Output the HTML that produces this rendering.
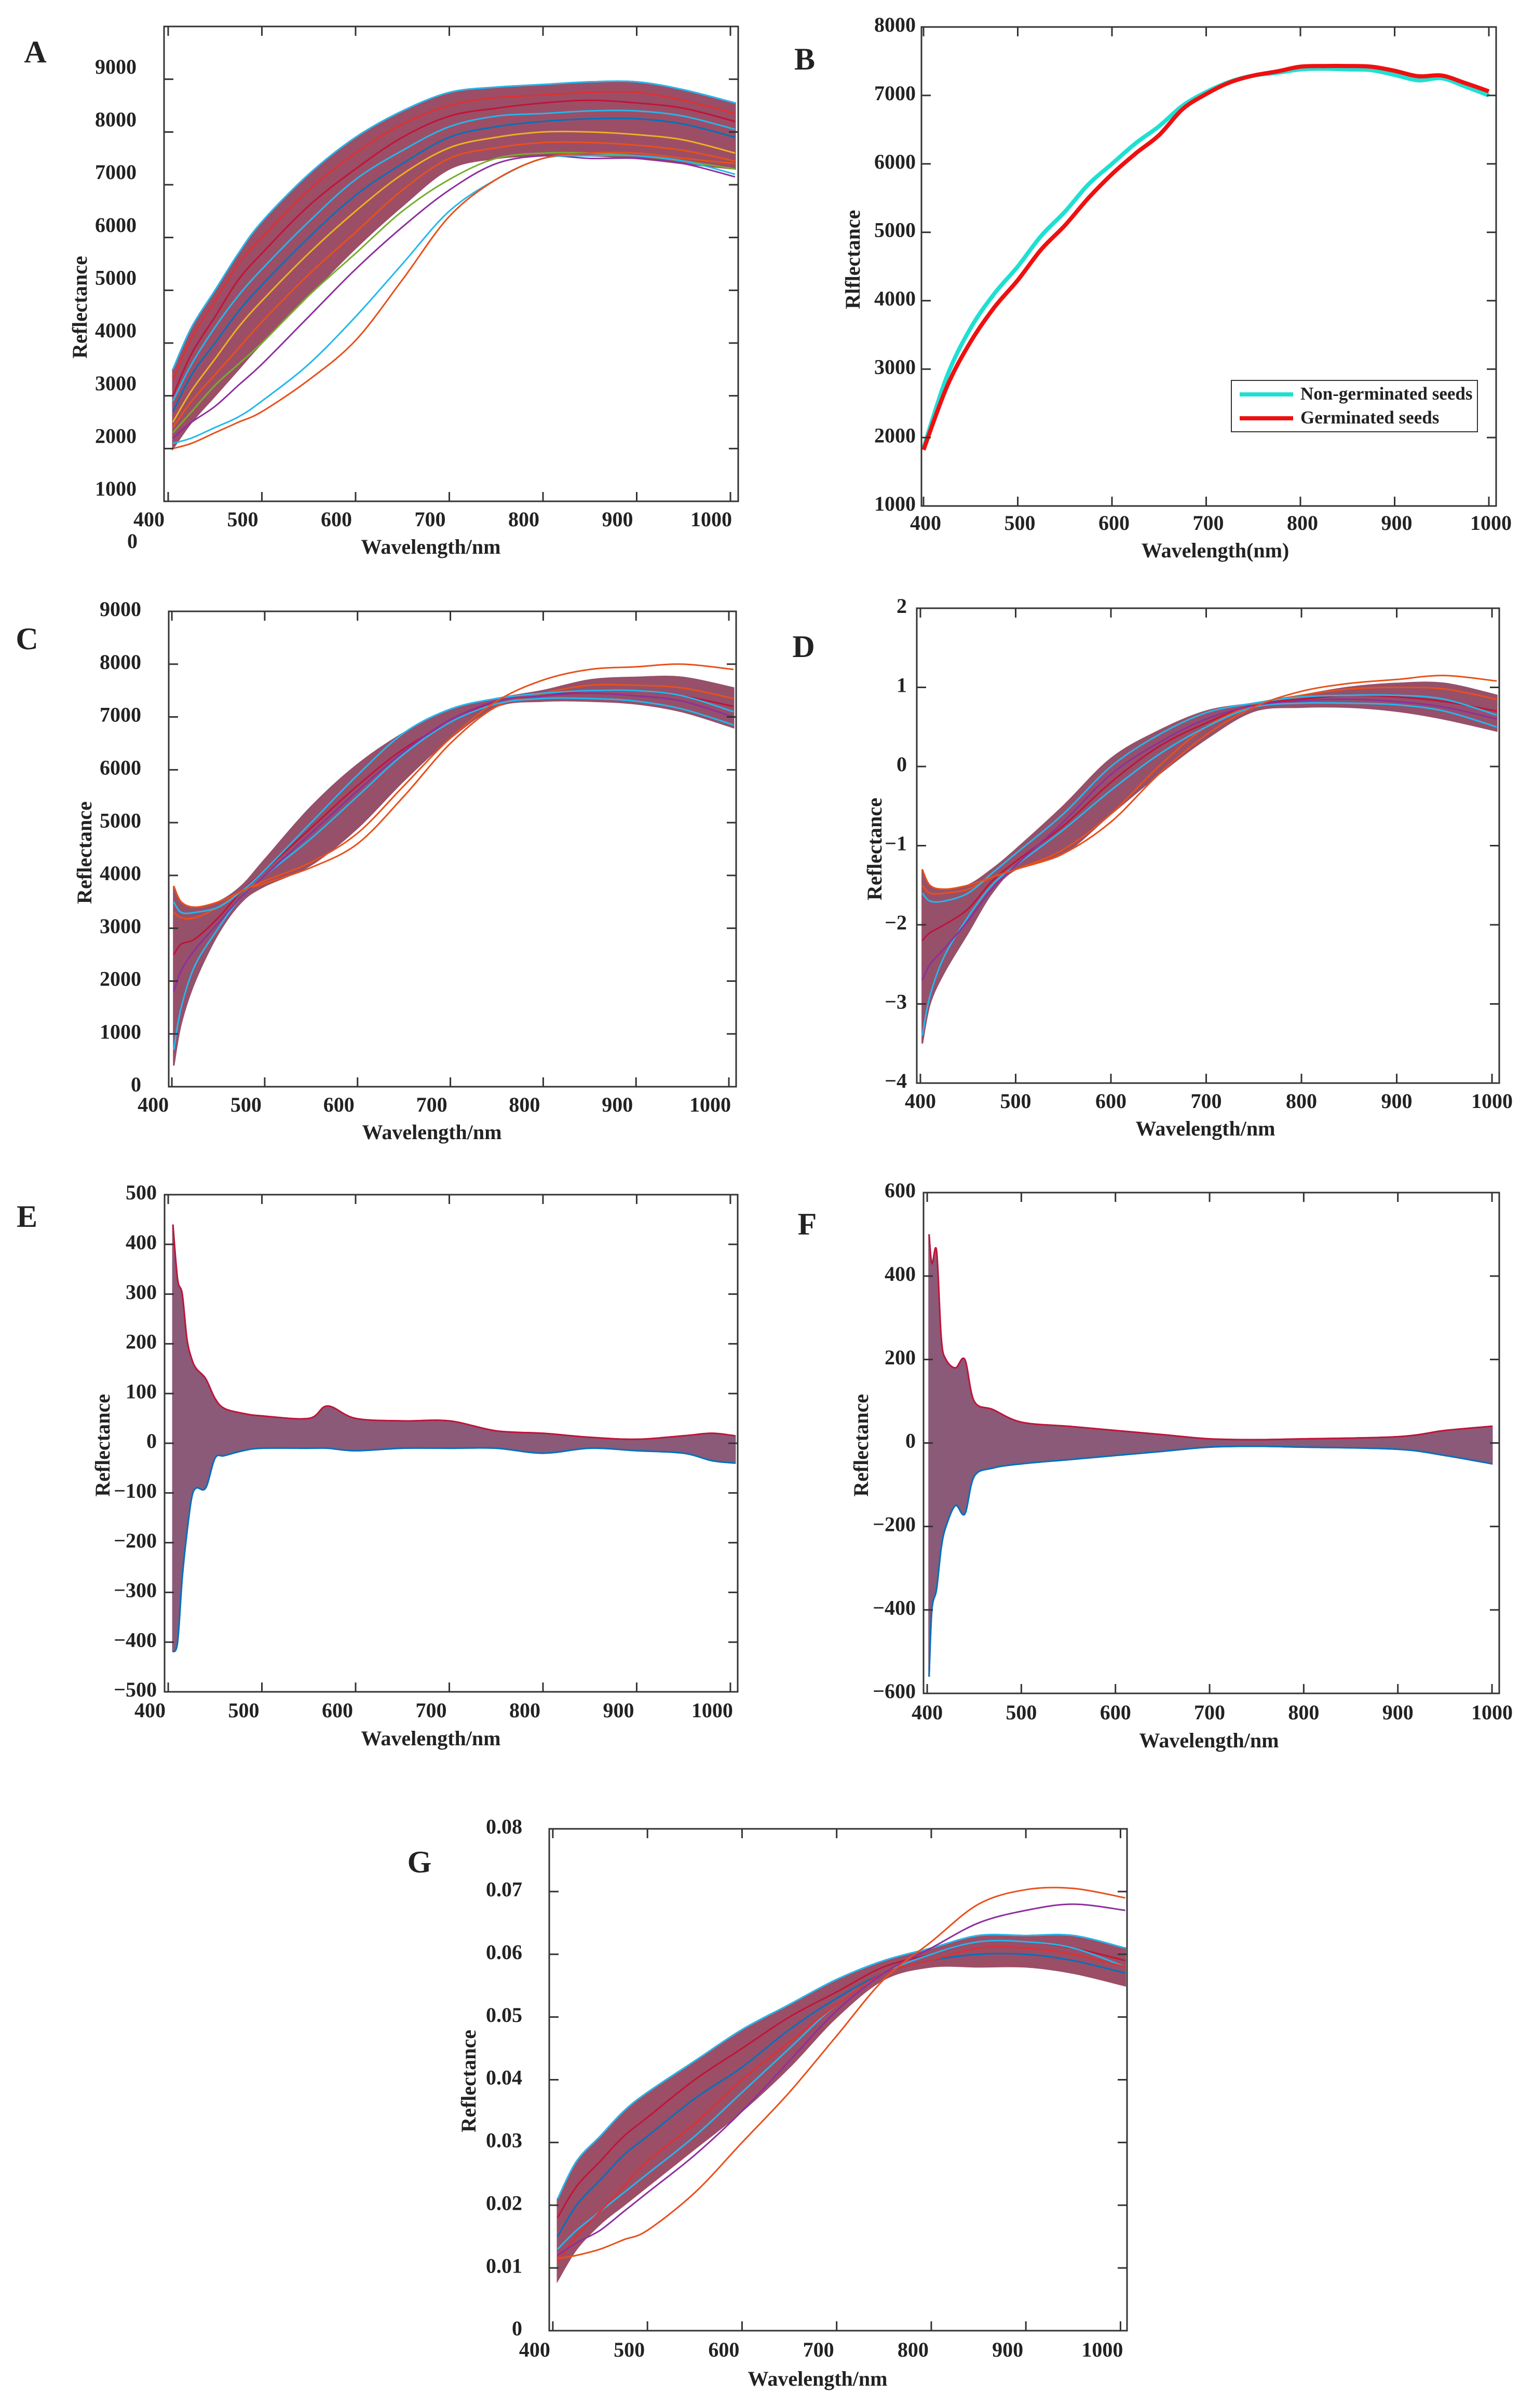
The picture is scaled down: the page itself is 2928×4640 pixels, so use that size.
<!DOCTYPE html>
<html><head><meta charset="utf-8">
<style>
html,body{margin:0;padding:0;background:#fff;}
svg text{font-family:"Liberation Serif",serif;font-weight:bold;fill:#222;}
</style></head>
<body>
<svg id="fig" xmlns="http://www.w3.org/2000/svg" width="2928" height="4635" viewBox="0 0 2928 4635">
<rect width="2928" height="4635" fill="#fff"/>
</svg>
<script>
// ---------- DATA ----------
const wlA = [405,425,450,475,500,550,600,650,700,750,800,850,900,950,1005];
const aUpper = [3500,4300,5000,5700,6300,7200,7900,8400,8750,8850,8900,8950,8950,8800,8550];
const aLower = [2000,2500,3000,3500,4000,4900,5800,6600,7300,7500,7550,7550,7500,7400,7300];
const aOrange = [2000,2100,2300,2500,2700,3300,4050,5200,6400,7100,7500,7600,7600,7500,7400];
const aCyan = [2100,2200,2400,2600,2900,3600,4500,5500,6500,7100,7500,7550,7550,7450,7200];
const aPurple = [2200,2500,2800,3200,3600,4500,5400,6200,6900,7400,7550,7500,7500,7400,7150];
const aGreen = [2300,2700,3200,3600,4000,4900,5700,6500,7100,7500,7600,7600,7550,7450,7300];
const aRed = [3000,3800,4500,5200,5700,6600,7300,7900,8300,8450,8550,8600,8550,8450,8200];
const aBlue = [2700,3400,4000,4600,5100,6000,6800,7400,7900,8100,8200,8250,8250,8150,7900];
const aYellow = [2500,3100,3700,4300,4800,5700,6500,7200,7700,7900,8000,8000,7950,7850,7600];
const aRed2 = [3300,4100,4800,5500,6000,6900,7600,8150,8500,8650,8700,8750,8750,8600,8350];
const aCyan2 = [2900,3600,4300,4900,5400,6300,7100,7650,8100,8300,8350,8400,8400,8300,8050];
const aRed3 = [2400,2900,3400,3900,4400,5300,6100,6900,7500,7700,7800,7800,7750,7650,7450];

const wlB = [400,425,450,475,500,525,550,575,600,625,650,675,700,725,750,775,800,825,850,875,900,925,950,975,1000];
const bNonGerm = [1850,2900,3600,4100,4500,4950,5300,5700,6000,6300,6550,6850,7050,7200,7290,7330,7380,7390,7380,7370,7300,7220,7250,7130,7000];
const bGerm = [1820,2750,3400,3900,4300,4750,5100,5500,5850,6150,6420,6800,7020,7190,7290,7350,7420,7430,7430,7420,7360,7280,7290,7180,7060];

const wlC = [402,410,425,450,475,500,550,600,650,700,750,800,850,900,950,1005];
const cUpper = [3800,3500,3400,3500,3800,4300,5300,6100,6700,7150,7350,7500,7700,7750,7750,7550];
const cLower = [400,1200,2000,2900,3500,3800,4200,4900,5800,6600,7200,7300,7300,7250,7100,6800];
const cTop = [3800,3500,3400,3500,3700,3900,4250,4800,5700,6600,7300,7700,7900,7950,8000,7900];
const cCyan = [3500,3300,3300,3400,3700,4100,5000,5900,6700,7150,7350,7450,7500,7500,7400,7100];
const cRed = [2500,2700,2800,3200,3700,4100,4900,5700,6400,6900,7300,7400,7500,7500,7400,7200];
const cBlue = [700,1500,2300,3000,3600,4000,4700,5500,6300,6900,7250,7350,7350,7300,7150,6850];
const cOrange = [3300,3200,3200,3400,3700,3850,4150,4600,5500,6500,7200,7450,7600,7600,7550,7350];
const cPurple = [1800,2200,2600,3100,3600,4000,4800,5600,6350,6950,7300,7400,7450,7400,7300,7000];

const dUpper = [-1.3,-1.5,-1.55,-1.5,-1.3,-1.05,-0.5,0.1,0.45,0.7,0.8,0.9,1.0,1.05,1.05,0.9];
const dLower = [-3.5,-3.0,-2.6,-2.1,-1.6,-1.3,-1.1,-0.6,-0.1,0.35,0.7,0.75,0.75,0.7,0.6,0.45];
const dTop = [-1.3,-1.5,-1.55,-1.5,-1.4,-1.3,-1.1,-0.7,-0.1,0.4,0.75,0.95,1.05,1.1,1.15,1.08];
const dCyan = [-1.6,-1.7,-1.7,-1.6,-1.35,-1.1,-0.6,0.0,0.4,0.68,0.8,0.88,0.9,0.9,0.85,0.65];
const dRed = [-2.2,-2.1,-2.0,-1.8,-1.45,-1.2,-0.75,-0.2,0.25,0.55,0.78,0.85,0.9,0.88,0.82,0.7];
const dBlue = [-3.4,-2.9,-2.4,-1.9,-1.5,-1.25,-0.8,-0.3,0.15,0.5,0.75,0.8,0.8,0.78,0.7,0.5];
const dOrange = [-1.5,-1.6,-1.6,-1.55,-1.4,-1.3,-1.05,-0.6,0.0,0.5,0.78,0.9,0.98,1.0,0.98,0.85];
const dPurple = [-2.7,-2.5,-2.3,-1.95,-1.55,-1.25,-0.7,-0.1,0.3,0.6,0.77,0.83,0.85,0.82,0.75,0.6];

const wlE = [405,410,415,420,425,430,440,450,460,480,500,550,570,600,650,700,750,800,850,900,950,980,1005];
const eUpper = [440,330,300,210,170,150,130,90,70,60,55,50,75,50,45,45,25,20,12,8,15,20,15];
const eLower = [-420,-400,-270,-180,-110,-90,-90,-30,-25,-15,-10,-10,-10,-15,-10,-10,-10,-20,-10,-15,-20,-35,-40];

const wlF = [402,405,410,415,420,430,440,450,470,500,550,600,650,700,750,800,900,950,1000];
const fUpper = [500,430,460,250,200,180,200,100,80,50,40,30,20,10,8,10,15,30,40];
const fLower = [-560,-400,-350,-250,-200,-150,-170,-80,-60,-50,-40,-30,-20,-10,-8,-10,-15,-30,-50];

const gUpper = [0.021,0.027,0.031,0.035,0.038,0.043,0.048,0.052,0.056,0.059,0.061,0.063,0.063,0.063,0.061];
const gLower = [0.008,0.013,0.017,0.020,0.023,0.029,0.035,0.042,0.050,0.056,0.058,0.058,0.058,0.057,0.055];
const gOrange = [0.0115,0.012,0.013,0.0145,0.016,0.022,0.030,0.038,0.047,0.056,0.062,0.068,0.0703,0.0705,0.069];
const gPurple = [0.012,0.014,0.016,0.019,0.022,0.028,0.035,0.043,0.051,0.057,0.061,0.065,0.067,0.068,0.067];
const gCyan = [0.013,0.016,0.019,0.022,0.025,0.031,0.038,0.045,0.052,0.057,0.060,0.062,0.062,0.061,0.058];
const gRed = [0.018,0.023,0.027,0.031,0.034,0.040,0.045,0.050,0.054,0.058,0.060,0.062,0.062,0.061,0.059];
const gBlue = [0.015,0.020,0.024,0.028,0.031,0.037,0.042,0.048,0.053,0.057,0.059,0.060,0.060,0.059,0.057];
const gRed2 = [0.011,0.015,0.019,0.023,0.027,0.033,0.040,0.046,0.052,0.057,0.059,0.061,0.061,0.060,0.058];

const xTicks = [400,500,600,700,800,900,1000];
const yTicksA = [1000,2000,3000,4000,5000,6000,7000,8000,9000];
const yTicksB = [1000,2000,3000,4000,5000,6000,7000,8000];
const yTicksC = [0,1000,2000,3000,4000,5000,6000,7000,8000,9000];
const yTicksD = [-4,-3,-2,-1,0,1,2];
const yTicksE = [-500,-400,-300,-200,-100,0,100,200,300,400,500];
const yTicksF = [-600,-400,-200,0,200,400,600];
const yTicksG = [0,0.01,0.02,0.03,0.04,0.05,0.06,0.07,0.08];

// ---------- DRAWING ----------
const NS = "http://www.w3.org/2000/svg";
const svg = document.getElementById('fig');
function el(tag, attrs, parent){
  const e = document.createElementNS(NS, tag);
  for (const k in attrs) e.setAttribute(k, attrs[k]);
  (parent||svg).appendChild(e);
  return e;
}
function fmt(v){
  let s = (Math.abs(v) < 1e-12) ? "0" : String(+v.toFixed(4));
  return s.replace('-', '\u2212');
}
function smoothPath(pts){
  let d = "M" + pts[0][0].toFixed(1) + "," + pts[0][1].toFixed(1);
  for (let i = 0; i < pts.length - 1; i++){
    const p0 = pts[Math.max(0,i-1)], p1 = pts[i], p2 = pts[i+1], p3 = pts[Math.min(pts.length-1,i+2)];
    const c1x = p1[0] + (p2[0]-p0[0])/6, c1y = p1[1] + (p2[1]-p0[1])/6;
    const c2x = p2[0] - (p3[0]-p1[0])/6, c2y = p2[1] - (p3[1]-p1[1])/6;
    d += " C" + c1x.toFixed(1)+","+c1y.toFixed(1)+" "+c2x.toFixed(1)+","+c2y.toFixed(1)+" "+p2[0].toFixed(1)+","+p2[1].toFixed(1);
  }
  return d;
}

function makePanel(cfg){
  const g = el('g', {});
  
  
  const [L,T,R,B] = cfg.box;
  const sx = v => L + (v - cfg.xlim[0]) / (cfg.xlim[1]-cfg.xlim[0]) * (R-L);
  const sy = v => B - (v - cfg.ylim[0]) / (cfg.ylim[1]-cfg.ylim[0]) * (B-T);
  const cp = el('clipPath', {id: 'clip'+cfg.id}, g);
  el('rect', {x:L, y:T, width:R-L, height:B-T}, cp);
  const plot = el('g', {'clip-path': 'url(#clip'+cfg.id+')'}, g);
  
  

  if (cfg.band){
    const up = cfg.band.wl.map((w,i)=>[sx(w), sy(cfg.band.upper[i])]);
    const lo = cfg.band.wl.map((w,i)=>[sx(w), sy(cfg.band.lower[i])]).reverse();
    const d = smoothPath(up) + " L" + smoothPath(lo).slice(1) + " Z";
    const band = el('path', {d:d, fill:cfg.band.fill, stroke:cfg.band.fill, 'stroke-width':3}, plot);
    
    
  }
  (cfg.series||[]).forEach((s, k) => {
    const pts = s.wl.map((w,i)=>[sx(w), sy(s.v[i])]);
    const p = el('path', {d:smoothPath(pts), fill:'none', stroke:s.color, 'stroke-width':s.w||3, 'stroke-linejoin':'round'}, plot);
    
    
  });

  const frame = el('rect', {x:L, y:T, width:R-L, height:B-T, fill:'none', stroke:'#333', 'stroke-width':3}, g);
  
  
  const tl = 18;
  xTicks.forEach(t => {
    const x = sx(t);
    el('line', {x1:x, y1:B, x2:x, y2:B-tl, stroke:'#333', 'stroke-width':3}, g);
    el('line', {x1:x, y1:T, x2:x, y2:T+tl, stroke:'#333', 'stroke-width':3}, g);
    const lab = el('text', {x:x + cfg.xdx, y:cfg.xly, 'font-size':40, 'text-anchor':'middle', 'dominant-baseline':'middle'}, g);
    lab.textContent = t;
    
    
  });
  cfg.yticks.forEach(t => {
    const y = sy(t);
    if (!(cfg.skipTick && cfg.skipTick(t))){
      el('line', {x1:L, y1:y, x2:L+tl, y2:y, stroke:'#333', 'stroke-width':3}, g);
      el('line', {x1:R, y1:y, x2:R-tl, y2:y, stroke:'#333', 'stroke-width':3}, g);
    }
    const lab = el('text', {x:L - cfg.gap, y:y + (cfg.ydy||0), 'font-size':40, 'text-anchor':'end', 'dominant-baseline':'middle'}, g);
    lab.textContent = fmt(t);
    
    
  });
  const xt = el('text', {x:cfg.xl[0], y:cfg.xl[1], 'font-size':40, 'text-anchor':'middle', 'dominant-baseline':'middle'}, g);
  xt.textContent = cfg.xtitle;
  
  
  const yt = el('text', {x:cfg.yl[0], y:cfg.yl[1], 'font-size':40, 'text-anchor':'middle', 'dominant-baseline':'middle', transform:'rotate(-90 '+cfg.yl[0]+' '+cfg.yl[1]+')'}, g);
  yt.textContent = cfg.ytitle;
  
  
  const lt = el('text', {x:cfg.letter[0], y:cfg.letter[1], 'font-size':60, 'text-anchor':'middle', 'dominant-baseline':'middle', fill:'#000'}, g);
  lt.textContent = cfg.id;
  
  
  return {sx, sy, g};
}

const C_BLUE='#0072BD', C_ORANGE='#E8501A', C_YEL='#EDB120', C_PUR='#8E2F9E', C_GRN='#77AC30', C_CYAN='#22B8EE', C_RED='#C0143A';
function S(name, wl, v, color, w){ return {name, wl, v, color, w}; }

// Panel A
const pA = makePanel({id:'A', box:[316,51,1422,966], xlim:[395.6,1008.3], ylim:[1000,10000], yticks:yTicksA, ydy:-20, skipTick:t=>t===1000,
  gap:53, xdx:-37, xly:1005, xl:[830,1058], yl:[158,592], letter:[68,106], xtitle:'Wavelength/nm', ytitle:'Reflectance',
  band:{wl:wlA, upper:aUpper, lower:aLower, fill:'#9c4e66'},
  series:[S('spectrum-red',wlA,aRed,C_RED),S('spectrum-blue',wlA,aBlue,C_BLUE),S('spectrum-yellow',wlA,aYellow,C_YEL),
    S('spectrum-red-2',wlA,aRed2,'#e03030'),S('spectrum-cyan-2',wlA,aCyan2,C_CYAN),S('spectrum-red-3',wlA,aRed3,C_ORANGE),
    S('spectrum-top',wlA,aUpper,C_CYAN),S('spectrum-green',wlA,aGreen,C_GRN),S('spectrum-purple',wlA,aPurple,C_PUR),
    S('spectrum-cyan-outlier',wlA,aCyan,C_CYAN),S('spectrum-orange-outlier',wlA,aOrange,C_ORANGE)]});
{ const z = el('text', {x:255, y:1047, 'font-size':40, 'text-anchor':'middle', 'dominant-baseline':'middle'}, pA.g);
  z.textContent = '0';
  
   }

// Panel B
const pB = makePanel({id:'B', box:[1775,52,2882,975], xlim:[397.8,1007.7], ylim:[1000,8000], yticks:yTicksB,
  gap:11, xdx:4, xly:1012, xl:[2341,1065], yl:[1647,500], letter:[1550,120], xtitle:'Wavelength(nm)', ytitle:'Rlflectance',
  series:[S('non-germinated-line',wlB,bNonGerm,'#1ee0d2',8), S('germinated-line',wlB,bGerm,'#ee1010',8)]});
{
  const lg = el('g', {}, pB.g);
  
  
  el('rect', {x:2372, y:733, width:474, height:99, fill:'#fff', stroke:'#333', 'stroke-width':2}, lg);
  el('line', {x1:2388, y1:760, x2:2491, y2:760, stroke:'#1ee0d2', 'stroke-width':8}, lg);
  el('line', {x1:2388, y1:806, x2:2491, y2:806, stroke:'#ee1010', 'stroke-width':8}, lg);
  const t1 = el('text', {x:2505, y:762, 'font-size':35, 'dominant-baseline':'middle'}, lg);
  t1.textContent = 'Non-germinated seeds';
  
  
  const t2 = el('text', {x:2505, y:808, 'font-size':35, 'dominant-baseline':'middle'}, lg);
  t2.textContent = 'Germinated seeds';
  
  
}

// Panel C
makePanel({id:'C', box:[325,1178,1418,2094], xlim:[396.6,1007.8], ylim:[0,9000], yticks:yTicksC,
  gap:53, xdx:-36, xly:2133, xl:[832,2186], yl:[167,1643], letter:[52,1237], xtitle:'Wavelength/nm', ytitle:'Reflectance',
  band:{wl:wlC, upper:cUpper, lower:cLower, fill:'#96506a'},
  series:[S('spectrum-red',wlC,cRed,C_RED),S('spectrum-orange',wlC,cOrange,C_ORANGE),S('spectrum-blue',wlC,cBlue,C_CYAN),
    S('spectrum-purple',wlC,cPurple,C_PUR),S('spectrum-cyan',wlC,cCyan,C_CYAN),S('spectrum-top',wlC,cTop,C_ORANGE)]});

// Panel D
makePanel({id:'D', box:[1766,1172,2888,2087], xlim:[396.2,1007.6], ylim:[-4,2], yticks:yTicksD,
  gap:19, xdx:0, xly:2126, xl:[2322,2179], yl:[1689,1636], letter:[1548,1252], xtitle:'Wavelength/nm', ytitle:'Reflectance',
  band:{wl:wlC, upper:dUpper, lower:dLower, fill:'#96506a'},
  series:[S('spectrum-red',wlC,dRed,C_RED),S('spectrum-orange',wlC,dOrange,C_ORANGE),S('spectrum-blue',wlC,dBlue,C_CYAN),
    S('spectrum-purple',wlC,dPurple,C_PUR),S('spectrum-cyan',wlC,dCyan,C_CYAN),S('spectrum-top',wlC,dTop,C_ORANGE)]});

// Panel E
makePanel({id:'E', box:[317,2302,1421,3260], xlim:[396.1,1007.8], ylim:[-500,500], yticks:yTicksE,
  gap:15, xdx:-35, xly:3300, xl:[830,3354], yl:[202,2785], letter:[52,2350], xtitle:'Wavelength/nm', ytitle:'Reflectance',
  band:{wl:wlE, upper:eUpper, lower:eLower, fill:'#8a5a78'},
  series:[S('spectrum-upper-edge',wlE,eUpper,C_RED,3),S('spectrum-lower-edge',wlE,eLower,C_BLUE,3)]});

// Panel F
makePanel({id:'F', box:[1779,2298,2888,3263], xlim:[396.1,1007.7], ylim:[-600,600], yticks:yTicksF,
  gap:15, xdx:0, xly:3304, xl:[2329,3358], yl:[1663,2785], letter:[1555,2365], xtitle:'Wavelength/nm', ytitle:'Reflectance',
  band:{wl:wlF, upper:fUpper, lower:fLower, fill:'#8a5a78'},
  series:[S('spectrum-upper-edge',wlF,fUpper,C_RED,3),S('spectrum-lower-edge',wlF,fLower,C_BLUE,3)]});

// Panel G
makePanel({id:'G', box:[1058,3524,2171,4491], xlim:[396.2,1006.9], ylim:[0,0.08], yticks:yTicksG,
  gap:52, xdx:-35, xly:4532, xl:[1575,4588], yl:[907,4010], letter:[808,3594], xtitle:'Wavelength/nm', ytitle:'Reflectance',
  band:{wl:wlA, upper:gUpper, lower:gLower, fill:'#9c4e66'},
  series:[S('spectrum-red',wlA,gRed,C_RED),S('spectrum-blue',wlA,gBlue,C_BLUE),S('spectrum-cyan',wlA,gCyan,C_CYAN),
    S('spectrum-red-2',wlA,gRed2,'#e03030'),
    S('spectrum-top',wlA,gUpper,C_CYAN),S('spectrum-purple',wlA,gPurple,C_PUR),S('spectrum-orange-outlier',wlA,gOrange,C_ORANGE)]});
</script>
</body></html>
